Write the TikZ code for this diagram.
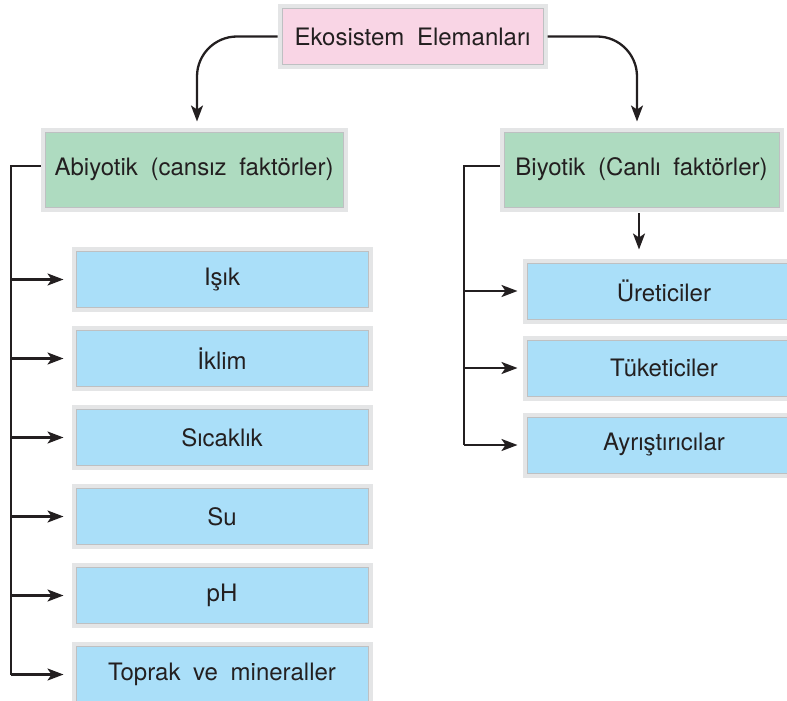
\documentclass[tikz,border=0pt]{standalone}
\usepackage{fontspec}
\setmainfont[WordSpace=1.9]{TeX Gyre Heros}
\usetikzlibrary{arrows.meta}

\definecolor{pinkfill}{RGB}{249,213,229}
\definecolor{greenfill}{RGB}{174,219,192}
\definecolor{bluefill}{RGB}{170,223,249}
\definecolor{framegray}{RGB}{228,229,230}
\definecolor{edgegray}{RGB}{190,192,194}
\definecolor{ink}{RGB}{35,31,32}

\tikzset{
  card/.style={preaction={draw=framegray, line width=9pt},
    draw=edgegray, line width=0.8pt, inner sep=0pt, outer sep=4.5pt,
    text=ink, font=\fontsize{24}{28}\selectfont},
  rootbox/.style={card, fill=pinkfill, minimum width=261pt, minimum height=56pt},
  groupbox/.style={card, fill=greenfill, minimum height=75pt},
  itembox/.style={card, fill=bluefill, minimum height=56pt},
  link/.style={draw=ink, line width=2.3pt},
  arrow/.style={link, -{Stealth[length=16pt,width=12pt,inset=4pt]}}
}

\begin{document}
\begin{tikzpicture}[x=1pt,y=-1pt]
\useasboundingbox (0,0) rectangle (787,701);

% root
\node[rootbox] (root) at (412.5,36.5) {Ekosistem Elemanları};

% two groups
\node[groupbox, minimum width=298pt] (abio) at (194,169.5) {Abiyotik (cansız faktörler)};
\node[groupbox, minimum width=275pt] (bio) at (641.5,169.5) {Biyotik (Canlı faktörler)};

% abiotic factors
\node[itembox, minimum width=292pt] (a1) at (222,279.5) {Işık};
\node[itembox, minimum width=292pt] (a2) at (222,358.5) {İklim};
\node[itembox, minimum width=292pt] (a3) at (222,437.5) {Sıcaklık};
\node[itembox, minimum width=292pt] (a4) at (222,516.5) {Su};
\node[itembox, minimum width=292pt] (a5) at (222,595.5) {pH};
\node[itembox, minimum width=292pt] (a6) at (222,674.5) {Toprak ve mineraller};

% biotic factors
\node[itembox, minimum width=274pt] (b1) at (664,291) {Üreticiler};
\node[itembox, minimum width=274pt] (b2) at (664,368) {Tüketiciler};
\node[itembox, minimum width=274pt] (b3) at (664,445) {Ayrıştırıcılar};

% root to groups
\draw[arrow, rounded corners=40pt, shorten >=6pt] (root.west) -| ([xshift=3pt]abio.north);
\draw[arrow, rounded corners=40pt, shorten >=6pt] (root.east) -| ([xshift=-4.5pt]bio.north);

% abiotic bus
\coordinate (lbus) at (11,166);
\draw[link] ([yshift=3.5pt]abio.west) -- (lbus) -- (lbus |- a6.west);
\foreach \n in {a1,a2,a3,a4,a5,a6}
  \draw[arrow, shorten >=8pt] (lbus |- \n.west) -- (\n.west);

% biotic bus
\coordinate (rbus) at (464,166);
\draw[link] ([yshift=3.5pt]bio.west) -- (rbus) -- (rbus |- b3.west);
\foreach \n in {b1,b2,b3}
  \draw[arrow, shorten >=5pt] (rbus |- \n.west) -- (\n.west);

% biotic group down arrow
\draw[arrow, shorten <=1.5pt, shorten >=9pt] ([xshift=-2.5pt]bio.south) -- ([xshift=-2.5pt]bio.south |- b1.north);
\end{tikzpicture}
\end{document}
